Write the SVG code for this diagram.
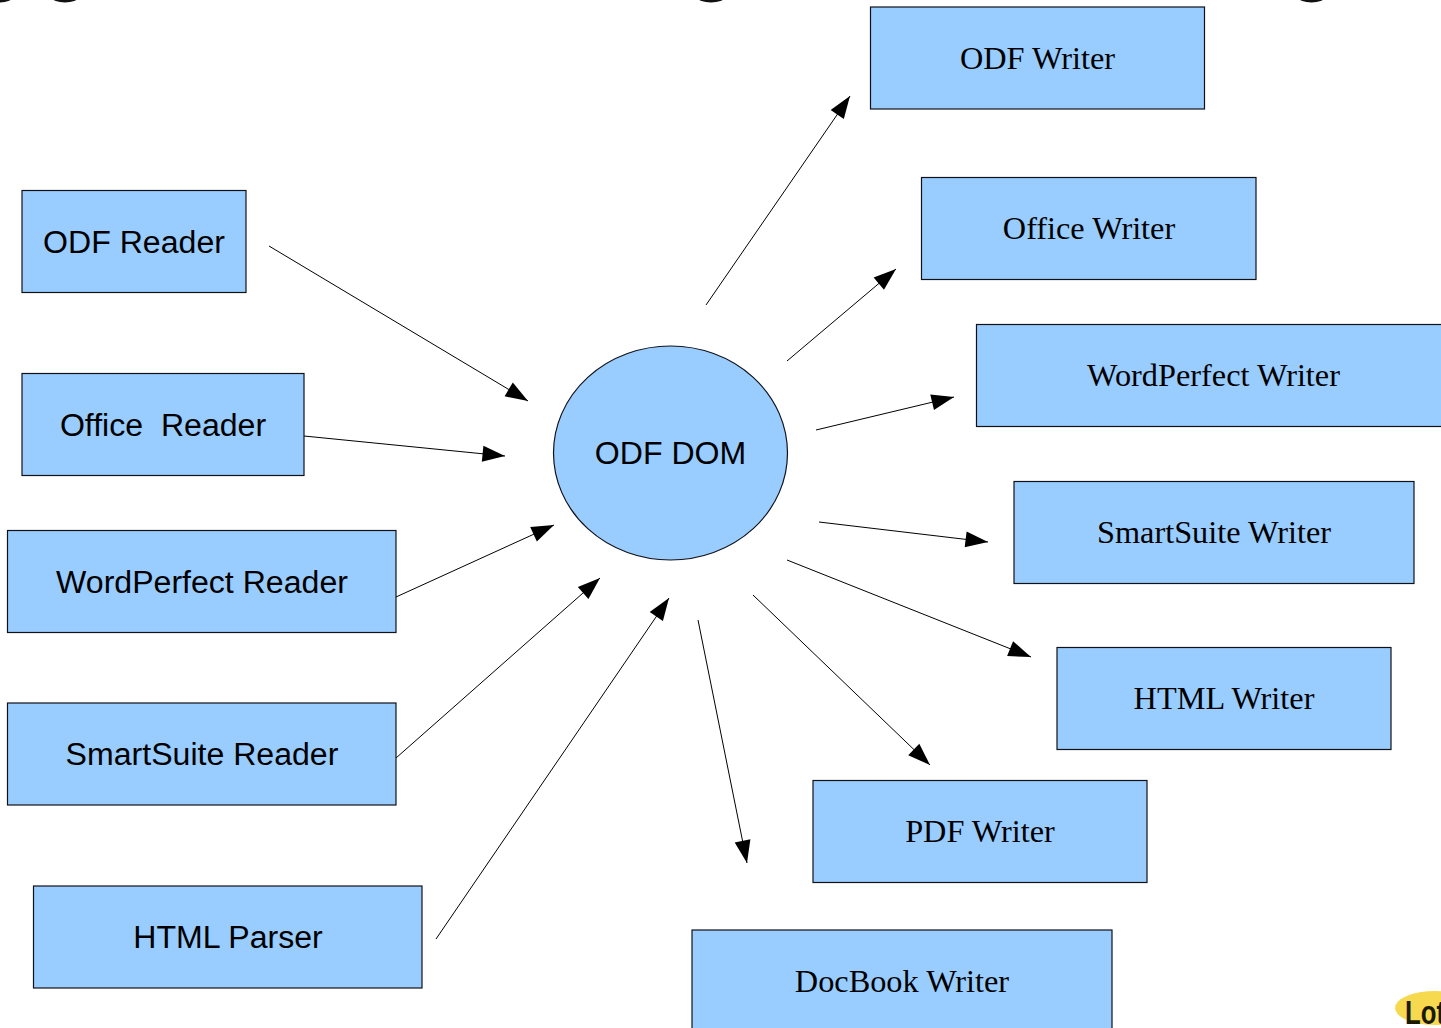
<svg xmlns="http://www.w3.org/2000/svg" width="1441" height="1028" viewBox="0 0 1441 1028">
<style>
.b{fill:#99ccff;stroke:#111118;stroke-width:1.2}
.s{font:32.1px "Liberation Sans",Arial,sans-serif;fill:#000;text-anchor:middle}
.t{font:32.3px "Liberation Serif","Times New Roman",serif;fill:#000;text-anchor:middle}
.f{fill:#111}
.c line{stroke:#000;stroke-width:1;marker-end:url(#a)}
</style>
<defs><marker id="a" markerUnits="userSpaceOnUse" markerWidth="26" markerHeight="18" refX="25" refY="9" orient="auto"><path d="M2.500 1L25 9L2.500 17Z" fill="#000"/></marker></defs>
<rect width="1441" height="1028" fill="#fff"/>
<g id="fragments">
<ellipse class="f" cx="0" cy="-2.500" rx="12" ry="5"/>
<ellipse class="f" cx="65" cy="-2.500" rx="13" ry="5"/>
<ellipse class="f" cx="711" cy="-2.500" rx="13.500" ry="5"/>
<ellipse class="f" cx="1311.500" cy="-2.500" rx="13" ry="5"/>
</g>
<g class="c" id="connectors">
<line x1="269" y1="246" x2="528" y2="401"/>
<line x1="304" y1="436" x2="505" y2="456"/>
<line x1="396" y1="597" x2="554" y2="525"/>
<line x1="396" y1="758" x2="600" y2="578"/>
<line x1="436" y1="939" x2="669" y2="598"/>
<line x1="706" y1="305" x2="850" y2="96"/>
<line x1="787" y1="361" x2="896" y2="269"/>
<line x1="816" y1="430" x2="954" y2="397"/>
<line x1="819" y1="522" x2="988" y2="542"/>
<line x1="787" y1="560" x2="1031" y2="657"/>
<line x1="753" y1="595" x2="930" y2="765"/>
<line x1="698" y1="620" x2="747" y2="863"/>
</g>
<g id="odf-reader"><rect class="b" x="22" y="190.500" width="224" height="102"/><text class="s" x="134" y="252.500">ODF Reader</text></g>
<g id="office-reader"><rect class="b" x="22" y="373.500" width="282" height="102"/><text class="s" x="163" y="435.500" xml:space="preserve">Office  Reader</text></g>
<g id="wordperfect-reader"><rect class="b" x="7.500" y="530.500" width="388.500" height="102"/><text class="s" x="202" y="592.500">WordPerfect Reader</text></g>
<g id="smartsuite-reader"><rect class="b" x="7.500" y="703" width="388.500" height="102"/><text class="s" x="202" y="764.500">SmartSuite Reader</text></g>
<g id="html-parser"><rect class="b" x="33.500" y="886" width="388.500" height="102"/><text class="s" x="228" y="947.500">HTML Parser</text></g>
<g id="odf-dom"><ellipse class="b" cx="670.500" cy="453" rx="117" ry="107"/><text class="s" x="670.500" y="463.500">ODF DOM</text></g>
<g id="odf-writer"><rect class="b" x="870.500" y="7" width="334" height="102"/><text class="t" x="1037.500" y="69">ODF Writer</text></g>
<g id="office-writer"><rect class="b" x="921.500" y="177.500" width="334.500" height="102"/><text class="t" x="1089" y="239">Office Writer</text></g>
<g id="wordperfect-writer"><rect class="b" x="976.500" y="324.500" width="475" height="102"/><text class="t" x="1213.500" y="386">WordPerfect Writer</text></g>
<g id="smartsuite-writer"><rect class="b" x="1014" y="481.500" width="400" height="102"/><text class="t" x="1214" y="543">SmartSuite Writer</text></g>
<g id="html-writer"><rect class="b" x="1057" y="647.500" width="334" height="102"/><text class="t" x="1224" y="709">HTML Writer</text></g>
<g id="pdf-writer"><rect class="b" x="813" y="780.500" width="334" height="102"/><text class="t" x="980" y="842">PDF Writer</text></g>
<g id="docbook-writer"><rect class="b" x="692" y="930" width="420" height="102"/><text class="t" x="902" y="992">DocBook Writer</text></g>
<g id="logo"><ellipse cx="1435" cy="1008" rx="40" ry="17" fill="#f7d950"/><text x="1405" y="1024" textLength="40" lengthAdjust="spacingAndGlyphs" style="font:bold 33px 'Liberation Sans',Arial,sans-serif;fill:#1a1a00">Lot</text></g>
</svg>
